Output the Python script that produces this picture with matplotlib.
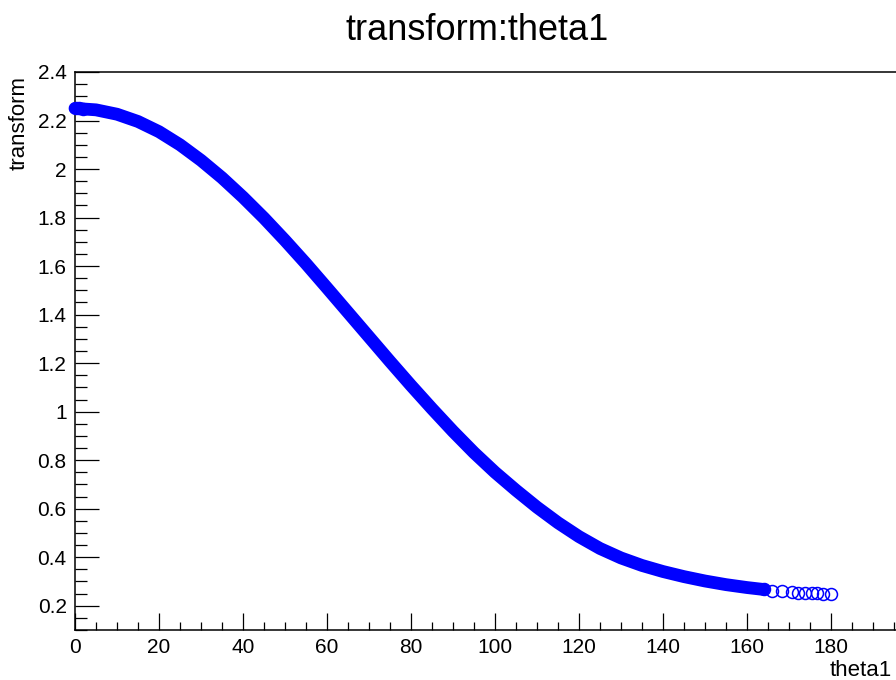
import numpy as np
import matplotlib
matplotlib.use("Agg")
import matplotlib.pyplot as plt
from matplotlib.ticker import MultipleLocator, FixedLocator, FuncFormatter

plt.rcParams['font.family'] = ['Liberation Sans', 'DejaVu Sans']

# band of points (theta1 in degrees, transform value)
theta1 = [0, 5, 10, 15, 20, 25, 30, 35, 40, 45, 50, 55, 60, 65, 70, 75, 80, 85,
          90, 95, 100, 105, 110, 115, 120, 125, 130, 135, 140, 145, 150, 155,
          160, 164]
transform = [2.250, 2.244, 2.226, 2.196, 2.154, 2.100, 2.036, 1.964, 1.884,
             1.798, 1.706, 1.610, 1.510, 1.409, 1.308, 1.207, 1.108, 1.012,
             0.919, 0.831, 0.750, 0.676, 0.606, 0.542, 0.485, 0.436, 0.397,
             0.366, 0.341, 0.320, 0.302, 0.287, 0.275, 0.267]

# sparse single points at both ends
end_theta1 = [0.3, 1.0, 2.0, 164, 166, 168.3, 170.6, 172.2, 173.8, 175.4,
              176.6, 178.2, 180]
end_transform = [2.250, 2.250, 2.249, 0.267, 0.262, 0.259, 0.256, 0.254,
                 0.253, 0.252, 0.251, 0.250, 0.248]

fig = plt.figure(figsize=(8.96, 6.8), dpi=100)
ax = fig.add_axes([75 / 896, 50 / 680, 840 / 896, 558 / 680])

ax.plot(theta1, transform, color='blue', lw=9.2, solid_capstyle='round',
        solid_joinstyle='round', clip_on=False, zorder=3)
ax.plot(end_theta1, end_transform, 'o', mfc='none', mec='blue', ms=8.6,
        mew=1.1, clip_on=False, zorder=4)

ax.set_xlim(0, 200)
ax.set_ylim(0.1, 2.4)

ax.xaxis.set_major_locator(FixedLocator([0, 20, 40, 60, 80, 100, 120, 140, 160, 180]))
ax.xaxis.set_minor_locator(MultipleLocator(5))
ax.yaxis.set_major_locator(MultipleLocator(0.2))
ax.yaxis.set_minor_locator(MultipleLocator(0.05))
ax.yaxis.set_major_formatter(FuncFormatter(lambda v, p: f"{v:g}"))
ax.xaxis.set_major_formatter(FuncFormatter(lambda v, p: f"{v:g}"))

ax.tick_params(axis='both', which='both', direction='in', top=False,
               right=False, width=0.9, labelsize=15, pad=6)
ax.tick_params(axis='y', which='major', length=17)
ax.tick_params(axis='y', which='minor', length=8.6)
ax.tick_params(axis='x', which='major', length=12)
ax.tick_params(axis='x', which='minor', length=5.5)

for s in ax.spines.values():
    s.set_linewidth(1.1)

fig.text(0.533, 1 - 40 / 680, "transform:theta1", ha='center',
         va='baseline', fontsize=26)
fig.text(19 / 896, 1 - 76 / 680, "transform", rotation=90, ha='center',
         va='top', fontsize=16)
fig.text(892 / 896, 1 - 676 / 680, "theta1", ha='right', va='baseline',
         fontsize=16)

fig.savefig("out.png", dpi=100)
